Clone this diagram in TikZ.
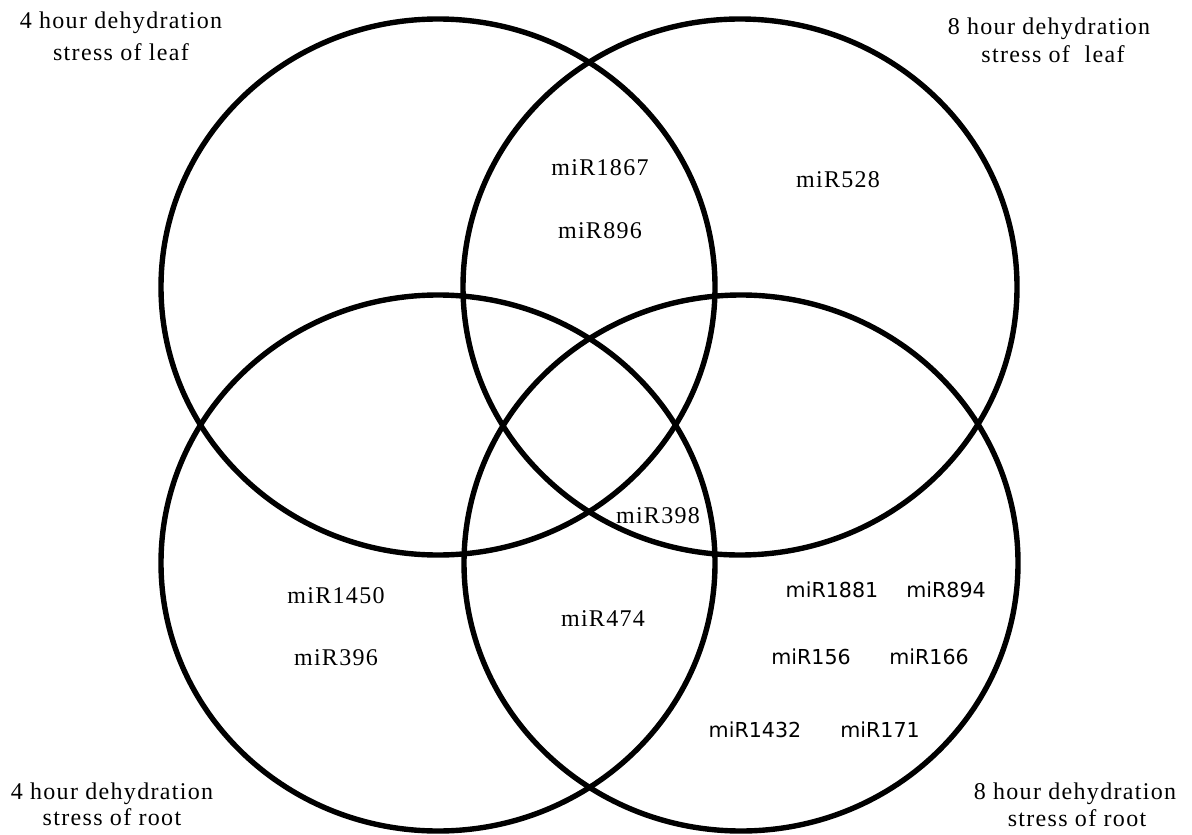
\documentclass[tikz,border=0pt]{standalone}
\usepackage{fontspec}
\setmainfont{Liberation Serif}[LetterSpace=5.5]
\newfontfamily\labelsans{DejaVu Sans}
\usetikzlibrary{shapes.geometric}
\begin{document}
\begin{tikzpicture}[x=0.5pt, y=-0.5pt,
  setring/.style={draw=black, line width=2.7pt, ellipse, inner sep=0pt,
    minimum width=277pt, minimum height=268pt},
  captxt/.style={anchor=base, inner sep=0pt, font=\fontsize{12pt}{14pt}\selectfont},
  mirserif/.style={anchor=base, inner sep=0pt, font=\fontsize{12pt}{14pt}\selectfont},
  mirsans/.style={anchor=base, inner sep=0pt, font=\labelsans\fontsize{10.3pt}{12pt}\selectfont}]
\useasboundingbox (0,0) rectangle (1192,834);

% the four sets
\node[setring] (leaf4) at (438,287) {};
\node[setring] (leaf8) at (740,287) {};
\node[setring] (root4) at (438,563) {};
\node[setring] (root8) at (741,563) {};

% set captions
\node[captxt] (capTLa) at (121,29) {4 hour dehydration};
\node[captxt] (capTLb) at (121,61) {stress of leaf};
\node[captxt] (capTRa) at (1049,35) {8 hour dehydration};
\node[captxt] (capTRb) at (1053,63) {stress of \ leaf};
\node[captxt] (capBLa) at (112,799) {4 hour dehydration};
\node[captxt] (capBLb) at (112,825) {stress of root};
\node[captxt] (capBRa) at (1075,799) {8 hour dehydration};
\node[captxt] (capBRb) at (1077,826) {stress of root};

% miRNAs in each region
\node[mirserif] (m1867) at (600,176) {miR1867};
\node[mirserif] (m896)  at (600,238) {miR896};
\node[mirserif] (m528)  at (838,188) {miR528};
\node[mirserif] (m398)  at (658,523) {miR398};
\node[mirserif] (m1450) at (336,603) {miR1450};
\node[mirserif] (m396)  at (336,665) {miR396};
\node[mirserif] (m474)  at (603,626) {miR474};

\node[mirsans] (m1881) at (832,597) {miR1881};
\node[mirsans] (m894)  at (946,597) {miR894};
\node[mirsans] (m156)  at (811,664) {miR156};
\node[mirsans] (m166)  at (929,664) {miR166};
\node[mirsans] (m1432) at (755,737) {miR1432};
\node[mirsans] (m171)  at (880,737) {miR171};
\end{tikzpicture}
\end{document}
